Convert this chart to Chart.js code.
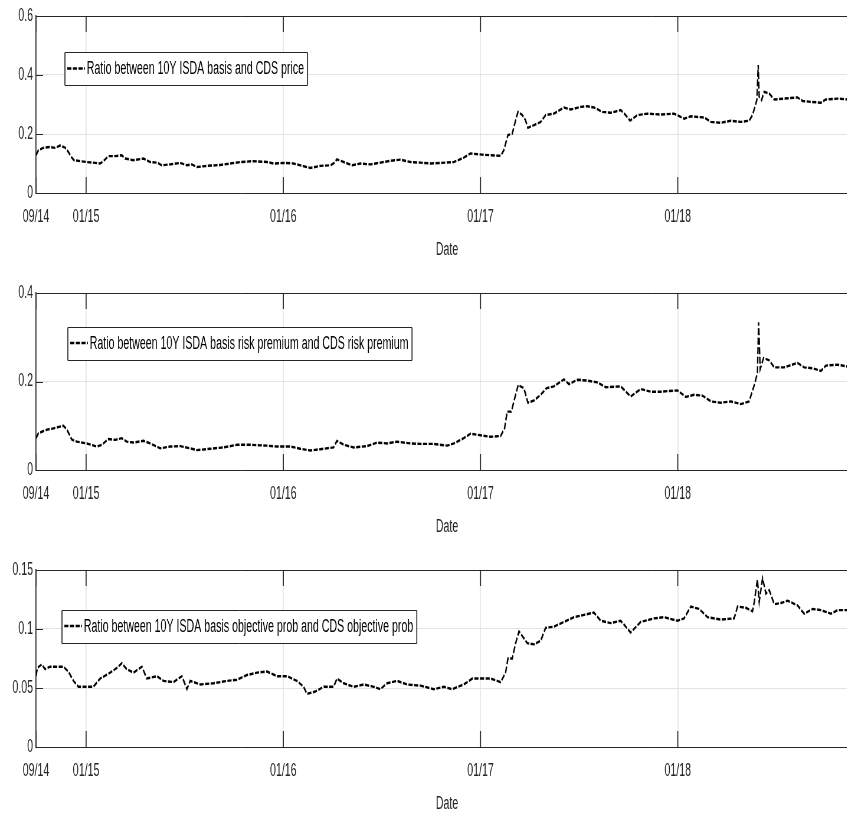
<!DOCTYPE html>
<html>
<head>
<meta charset="utf-8">
<script src="https://cdn.jsdelivr.net/npm/chart.js@4.4.1/dist/chart.umd.min.js"></script>
<style>
  html, body { margin: 0; padding: 0; background: #fff; overflow: hidden; width: 847px; height: 816px; }
  canvas { display: block; }
</style>
</head>
<body>
<canvas id="c1"></canvas>
<canvas id="c2"></canvas>
<canvas id="c3"></canvas>
<script>
// ---------------- DATA ----------------
const xTickValues = [2014.746, 2015, 2016, 2017, 2018];
const xTickLabels = ['09/14', '01/15', '01/16', '01/17', '01/18'];
const xMin = 2014.746, xMax = 2018.914;

const label1 = 'Ratio between 10Y ISDA basis and CDS price';
const label2 = 'Ratio between 10Y ISDA basis risk premium and CDS risk premium';
const label3 = 'Ratio between 10Y ISDA basis objective prob and CDS objective prob';

const yTicks1 = [0, 0.2, 0.4, 0.6];
const yTicks2 = [0, 0.2, 0.4];
const yTicks3 = [0, 0.05, 0.1, 0.15];

const dates1 = [2014.746,2014.758,2014.783,2014.817,2014.843,2014.868,2014.893,2014.910,2014.927,2014.939,2014.970,2015.003,2015.046,2015.071,2015.088,2015.113,2015.147,2015.181,2015.198,2015.240,2015.291,2015.325,2015.359,2015.384,2015.426,2015.477,2015.511,2015.536,2015.562,2015.613,2015.680,2015.731,2015.782,2015.849,2015.917,2015.951,2016.002,2016.052,2016.095,2016.137,2016.188,2016.239,2016.255,2016.272,2016.306,2016.349,2016.391,2016.442,2016.492,2016.543,2016.594,2016.645,2016.695,
  2016.746,2016.797,2016.865,2016.915,2016.949,2017.007,2017.051,2017.102,2017.118,2017.139,2017.161,2017.178,2017.190,2017.212,2017.228,2017.240,2017.271,2017.305,2017.330,2017.372,2017.423,2017.457,2017.508,2017.541,2017.575,2017.618,2017.660,2017.711,2017.736,2017.758,2017.795,2017.846,2017.914,2017.981,2018.032,2018.066,2018.134,2018.168,2018.218,2018.269,2018.320,2018.362,2018.379,2018.401,2018.408,2018.413,2018.425,2018.438,2018.464,2018.489,2018.540,2018.607,2018.633,2018.675,2018.726,2018.751,2018.811,2018.863];
const ratioPrice = [0.128,0.145,0.153,0.156,0.153,0.161,0.154,0.139,0.120,0.111,0.108,0.105,0.102,0.100,0.108,0.125,0.125,0.128,0.117,0.111,0.117,0.105,0.103,0.094,0.097,0.102,0.094,0.097,0.088,0.092,0.095,0.100,0.105,0.108,0.105,0.100,0.102,0.100,0.092,0.085,0.092,0.094,0.100,0.114,0.105,0.094,0.100,0.097,0.103,0.109,0.113,0.105,0.103,
  0.100,0.102,0.105,0.120,0.134,0.130,0.128,0.126,0.145,0.196,0.201,0.247,0.275,0.264,0.247,0.221,0.230,0.241,0.264,0.269,0.290,0.283,0.292,0.294,0.290,0.275,0.272,0.281,0.264,0.245,0.264,0.269,0.266,0.269,0.252,0.260,0.256,0.241,0.238,0.245,0.241,0.245,0.264,0.315,0.434,0.326,0.315,0.343,0.337,0.317,0.320,0.324,0.312,0.309,0.306,0.317,0.320,0.317];

const dates2 = [2014.746,2014.758,2014.800,2014.834,2014.868,2014.885,2014.902,2014.927,2014.953,2015.003,2015.054,2015.080,2015.113,2015.147,2015.181,2015.206,2015.240,2015.291,2015.325,2015.376,2015.426,2015.477,2015.528,2015.562,2015.629,2015.697,2015.765,2015.832,2015.917,2015.968,2016.036,2016.086,2016.137,2016.188,2016.255,2016.272,2016.306,2016.357,2016.425,2016.475,2016.526,2016.577,2016.645,2016.695,
  2016.763,2016.831,2016.865,2016.915,2016.949,2017.007,2017.051,2017.102,2017.122,2017.135,2017.156,2017.178,2017.191,2017.220,2017.240,2017.271,2017.305,2017.335,2017.372,2017.423,2017.448,2017.491,2017.541,2017.592,2017.635,2017.711,2017.761,2017.812,2017.863,2017.914,2017.998,2018.041,2018.083,2018.125,2018.168,2018.218,2018.269,2018.320,2018.362,2018.388,2018.404,2018.410,2018.418,2018.435,2018.464,2018.489,2018.540,2018.607,2018.641,2018.684,2018.726,2018.751,2018.811,2018.858];
const ratioRiskPremium = [0.072,0.083,0.091,0.094,0.098,0.100,0.092,0.069,0.064,0.060,0.053,0.057,0.070,0.068,0.072,0.064,0.062,0.066,0.060,0.049,0.053,0.054,0.049,0.045,0.048,0.051,0.057,0.057,0.055,0.053,0.053,0.048,0.044,0.047,0.051,0.066,0.057,0.051,0.054,0.062,0.060,0.064,0.060,0.059,
  0.059,0.055,0.060,0.072,0.082,0.078,0.075,0.077,0.094,0.132,0.132,0.170,0.192,0.185,0.152,0.157,0.170,0.185,0.189,0.205,0.194,0.204,0.202,0.198,0.187,0.189,0.166,0.183,0.177,0.177,0.180,0.165,0.170,0.168,0.155,0.152,0.155,0.149,0.155,0.192,0.219,0.334,0.228,0.253,0.248,0.232,0.232,0.242,0.232,0.230,0.224,0.236,0.238,0.234];

const dates3 = [2014.746,2014.753,2014.775,2014.792,2014.817,2014.851,2014.885,2014.910,2014.936,2014.961,2015.003,2015.037,2015.071,2015.122,2015.156,2015.181,2015.206,2015.240,2015.283,2015.308,2015.359,2015.393,2015.443,2015.486,2015.511,2015.528,2015.579,2015.646,2015.714,2015.765,2015.816,2015.866,2015.917,2015.968,2016.019,2016.069,2016.103,2016.120,2016.162,2016.205,2016.255,2016.272,2016.306,2016.357,2016.408,2016.459,2016.492,2016.526,2016.577,2016.628,2016.695,
  2016.763,2016.814,2016.856,2016.915,2016.958,2017.007,2017.051,2017.102,2017.127,2017.139,2017.161,2017.178,2017.195,2017.212,2017.237,2017.271,2017.305,2017.330,2017.372,2017.423,2017.474,2017.525,2017.575,2017.609,2017.660,2017.711,2017.761,2017.812,2017.880,2017.931,2017.998,2018.032,2018.066,2018.108,2018.151,2018.218,2018.286,2018.303,2018.345,2018.379,2018.388,2018.404,2018.413,2018.430,2018.447,2018.464,2018.489,2018.523,2018.557,2018.607,2018.641,2018.684,2018.726,2018.777,2018.811,2018.858];
const ratioObjectiveProb = [0.060,0.067,0.070,0.066,0.068,0.068,0.068,0.064,0.056,0.051,0.051,0.051,0.058,0.063,0.067,0.071,0.066,0.063,0.068,0.058,0.060,0.056,0.055,0.060,0.049,0.056,0.053,0.054,0.056,0.057,0.061,0.063,0.064,0.060,0.060,0.056,0.051,0.045,0.047,0.051,0.051,0.058,0.054,0.051,0.053,0.051,0.049,0.054,0.056,0.053,0.052,
  0.049,0.051,0.049,0.053,0.058,0.058,0.058,0.055,0.063,0.075,0.075,0.088,0.098,0.094,0.088,0.087,0.090,0.101,0.102,0.106,0.110,0.112,0.114,0.107,0.105,0.107,0.097,0.106,0.109,0.110,0.107,0.109,0.119,0.117,0.110,0.108,0.109,0.119,0.118,0.115,0.123,0.142,0.123,0.143,0.130,0.133,0.121,0.122,0.124,0.120,0.113,0.117,0.116,0.113,0.116,0.116];

// ---------------- STYLE ----------------
const SX = 0.59;                 // horizontal squeeze of the figure
const VIS_W = 858;               // visible plot ends just past the window edge
const W = Math.round(VIS_W / SX);
const FONT = "'Liberation Sans', Arial, sans-serif";
const AXIS = '#262626';
const GRID = '#e3e3e3';
const VLW = 1 / SX;              // line width that looks 1px after squeeze

const axesDecor = {
  id: 'axesDecor',
  afterDatasetsDraw(chart) {
    const { ctx, chartArea: a, scales: { x, y } } = chart;
    ctx.save();
    ctx.strokeStyle = AXIS;
    ctx.lineWidth = 1;
    ctx.beginPath();
    ctx.moveTo(a.left, a.top + 0.5); ctx.lineTo(a.right, a.top + 0.5);
    y.ticks.forEach(t => {
      const py = Math.round(y.getPixelForValue(t.value)) + 0.5;
      ctx.moveTo(a.left, py); ctx.lineTo(a.left + 12, py);
    });
    ctx.stroke();
    ctx.lineWidth = VLW;
    ctx.beginPath();
    x.ticks.forEach(t => {
      const px = x.getPixelForValue(t.value);
      ctx.moveTo(px, a.bottom); ctx.lineTo(px, a.bottom - 16);
      ctx.moveTo(px, a.top); ctx.lineTo(px, a.top + 16);
    });
    ctx.stroke();
    ctx.restore();
  }
};

const boxLegend = {
  id: 'boxLegend',
  afterDraw(chart, args, opts) {
    const { ctx, chartArea: a } = chart;
    const ds = chart.data.datasets[0];
    ctx.save();
    ctx.font = '18px ' + FONT;
    const tw = ctx.measureText(ds.label).width;
    const lineLen = 30, h = 33;
    const left = a.left + opts.dx, cy = a.top + opts.dy;
    const w = 4 + lineLen + 3 + tw + 6;
    const top = Math.round(cy - h / 2) + 0.5;
    ctx.fillStyle = '#fff';
    ctx.fillRect(left, top, w, h);
    ctx.strokeStyle = AXIS;
    ctx.lineWidth = 1;
    ctx.beginPath();
    ctx.moveTo(left, top); ctx.lineTo(left + w, top);
    ctx.moveTo(left, top + h); ctx.lineTo(left + w, top + h);
    ctx.stroke();
    ctx.lineWidth = VLW;
    ctx.beginPath();
    ctx.moveTo(left, top); ctx.lineTo(left, top + h);
    ctx.moveTo(left + w, top); ctx.lineTo(left + w, top + h);
    ctx.stroke();
    ctx.strokeStyle = '#000';
    ctx.lineWidth = ds.borderWidth;
    ctx.setLineDash(ds.borderDash);
    ctx.beginPath();
    ctx.moveTo(left + 4, cy); ctx.lineTo(left + 4 + lineLen, cy);
    ctx.stroke();
    ctx.setLineDash([]);
    ctx.fillStyle = '#000';
    ctx.textAlign = 'left';
    ctx.textBaseline = 'middle';
    ctx.fillText(ds.label, left + 4 + lineLen + 3, cy + 1);
    ctx.restore();
  }
};

function makeChart(id, h, padBottom, dates, values, label, yTicks, legendPos) {
  const canvas = document.getElementById(id);
  canvas.width = W;
  canvas.height = h;
  canvas.style.width = VIS_W + 'px';
  canvas.style.height = h + 'px';
  return new Chart(canvas, {
    type: 'line',
    data: {
      datasets: [{
        label: label,
        data: dates.map((d, i) => ({ x: d, y: values[i] })),
        borderColor: '#000',
        borderWidth: 2.4,
        borderDash: [7, 2.5],
        pointRadius: 0,
        tension: 0,
        fill: false
      }]
    },
    options: {
      responsive: false,
      animation: false,
      devicePixelRatio: 1,
      layout: { padding: { top: 16, left: 0, right: 0, bottom: padBottom } },
      plugins: {
        legend: { display: false },
        tooltip: { enabled: false },
        boxLegend: legendPos
      },
      scales: {
        x: {
          type: 'linear',
          min: xMin,
          max: xMax,
          afterBuildTicks: s => { s.ticks = xTickValues.map(v => ({ value: v })); },
          afterFit: s => { s.height = 68; },
          ticks: {
            autoSkip: false, maxRotation: 0, padding: 13, color: AXIS,
            font: { family: FONT, size: 18 },
            callback: (v, i) => xTickLabels[i]
          },
          grid: { color: GRID, lineWidth: VLW, drawTicks: false },
          border: { display: true, color: AXIS, width: 1 },
          title: { display: true, text: 'Date', color: AXIS, font: { family: FONT, size: 18 }, padding: { top: 0, bottom: 0 } }
        },
        y: {
          min: yTicks[0],
          max: yTicks[yTicks.length - 1],
          afterBuildTicks: s => { s.ticks = yTicks.map(v => ({ value: v })); },
          afterFit: s => { s.width = 61; },
          ticks: {
            padding: 5, color: AXIS,
            font: { family: FONT, size: 18 },
            callback: v => String(v)
          },
          grid: { color: GRID, lineWidth: 1, drawTicks: false },
          border: { display: true, color: AXIS, width: VLW }
        }
      }
    },
    plugins: [axesDecor, boxLegend]
  });
}

makeChart('c1', 277, 16, dates1, ratioPrice, label1, yTicks1, { dx: 49, dy: 52.5 });
makeChart('c2', 277, 16, dates2, ratioRiskPremium, label2, yTicks2, { dx: 54, dy: 50 });
makeChart('c3', 262, 1, dates3, ratioObjectiveProb, label3, yTicks3, { dx: 44, dy: 56 });
</script>
</body>
</html>
